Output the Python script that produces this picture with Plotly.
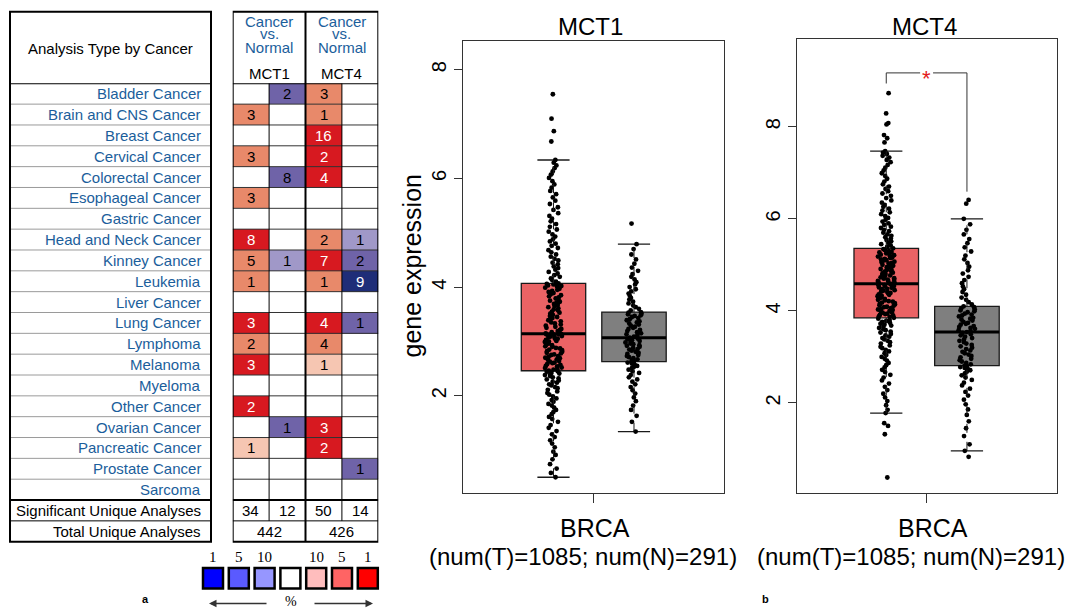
import plotly.graph_objects as go

W, H = 1070, 610
def px(x): return x / W
def py(y): return 1 - y / H

FONT = "Liberation Sans, Arial, sans-serif"
SERIF = "Liberation Serif, Times New Roman, serif"

# ---------------- Oncomine table data ----------------
cancers = ["Bladder Cancer", "Brain and CNS Cancer", "Breast Cancer", "Cervical Cancer",
           "Colorectal Cancer", "Esophageal Cancer", "Gastric Cancer", "Head and Neck Cancer",
           "Kinney Cancer", "Leukemia", "Liver Cancer", "Lung Cancer", "Lymphoma", "Melanoma",
           "Myeloma", "Other Cancer", "Ovarian Cancer", "Pancreatic Cancer", "Prostate Cancer",
           "Sarcoma"]
genes = ["MCT1", "MCT4"]
# counts of significant analyses (None = empty cell) and gene rank (top 1/5/10 %)
mct1_up_count   = [None, 3, None, 3, None, 3, None, 8, 5, 1, None, 3, 2, 3, None, 2, None, 1, None, None]
mct1_up_rank    = [None, 5, None, 5, None, 5, None, 1, 5, 5, None, 1, 5, 1, None, 1, None, 10, None, None]
mct1_down_count = [2, None, None, None, 8, None, None, None, 1, None, None, None, None, None, None, None, 1, None, None, None]
mct1_down_rank  = [5, None, None, None, 5, None, None, None, 10, None, None, None, None, None, None, None, 5, None, None, None]
mct4_up_count   = [3, 1, 16, 2, 4, None, None, 2, 7, 1, None, 4, 4, 1, None, None, 3, 2, None, None]
mct4_up_rank    = [5, 5, 1, 1, 1, None, None, 5, 1, 5, None, 1, 5, 10, None, None, 1, 1, None, None]
mct4_down_count = [None, None, None, None, None, None, None, 1, 2, 9, None, 1, None, None, None, None, None, None, 1, None]
mct4_down_rank  = [None, None, None, None, None, None, None, 10, 5, 1, None, 5, None, None, None, None, None, None, 5, None]
significant_unique = [34, 12, 50, 14]
total_unique = [442, 426]
legend_labels = ["1", "5", "10", "", "10", "5", "1"]

# ---------------- box plot data (GEPIA, BRCA) ----------------
# [lower whisker, q1, median, q3, upper whisker]
mct1_tumor_box = [0.50, 2.46, 3.14, 4.07, 6.34]
mct1_normal_box = [1.34, 2.63, 3.07, 3.54, 4.79]
mct4_tumor_box = [1.78, 3.85, 4.59, 5.36, 7.47]
mct4_normal_box = [0.96, 2.81, 3.54, 4.10, 6.00]

mct1_tumor_pts = [
    0.50, 0.58, 0.66, 0.74, 0.83, 0.91, 0.97, 1.05, 1.12, 1.18, 1.24, 1.29, 1.35, 1.41, 1.46,
    1.52, 1.57, 1.61, 1.66, 1.70, 1.74, 1.78, 1.82, 1.85, 1.89, 1.92, 1.95, 1.99, 2.02, 2.05,
    2.08, 2.11, 2.14, 2.16, 2.19, 2.21, 2.24, 2.26, 2.28, 2.30, 2.32, 2.34, 2.36, 2.38, 2.39,
    2.41, 2.42, 2.44, 2.45, 2.46,
    2.48, 2.49, 2.51, 2.52, 2.54, 2.55, 2.57, 2.58, 2.60, 2.61, 2.63, 2.64, 2.66, 2.67, 2.69,
    2.70, 2.72, 2.73, 2.75, 2.76, 2.78, 2.79, 2.81, 2.82, 2.84, 2.85, 2.87, 2.88, 2.90, 2.91,
    2.93, 2.94, 2.96, 2.97, 2.99, 3.00, 3.01, 3.03, 3.04, 3.05, 3.07, 3.08, 3.09, 3.10, 3.11,
    3.12, 3.13, 3.13, 3.14, 3.14,
    3.15, 3.17, 3.19, 3.21, 3.23, 3.25, 3.27, 3.29, 3.31, 3.33, 3.35, 3.37, 3.39, 3.41, 3.43,
    3.45, 3.47, 3.49, 3.51, 3.53, 3.55, 3.57, 3.59, 3.61, 3.63, 3.65, 3.67, 3.69, 3.71, 3.73,
    3.75, 3.77, 3.79, 3.81, 3.83, 3.85, 3.87, 3.89, 3.91, 3.93, 3.95, 3.97, 3.99, 4.01, 4.02,
    4.03, 4.04, 4.05, 4.06, 4.07,
    4.10, 4.13, 4.16, 4.19, 4.22, 4.25, 4.28, 4.32, 4.35, 4.38, 4.42, 4.45, 4.49, 4.52, 4.56,
    4.60, 4.64, 4.68, 4.72, 4.76, 4.80, 4.84, 4.88, 4.93, 4.97, 5.02, 5.06, 5.11, 5.16, 5.21,
    5.26, 5.31, 5.36, 5.42, 5.47, 5.53, 5.59, 5.65, 5.71, 5.77, 5.83, 5.89, 5.95, 6.01, 6.07,
    6.13, 6.19, 6.24, 6.29, 6.34,
    6.68, 6.87, 7.10, 7.55]
mct1_normal_pts = [
    1.34, 1.52, 1.63, 1.74, 1.82, 1.90, 1.97, 2.04, 2.10, 2.16, 2.21, 2.26, 2.30, 2.34, 2.38,
    2.42, 2.45, 2.48, 2.51, 2.53, 2.55, 2.57, 2.59, 2.61, 2.63,
    2.65, 2.67, 2.69, 2.71, 2.73, 2.75, 2.77, 2.79, 2.81, 2.83, 2.85, 2.86, 2.88, 2.90, 2.92,
    2.93, 2.95, 2.96, 2.98, 2.99, 3.01, 3.02, 3.04, 3.05, 3.07,
    3.09, 3.11, 3.13, 3.15, 3.17, 3.19, 3.21, 3.23, 3.25, 3.27, 3.29, 3.31, 3.33, 3.35, 3.37,
    3.39, 3.41, 3.43, 3.45, 3.47, 3.48, 3.50, 3.51, 3.53, 3.54,
    3.57, 3.60, 3.63, 3.66, 3.70, 3.73, 3.77, 3.80, 3.84, 3.88, 3.92, 3.96, 4.00, 4.05, 4.09,
    4.14, 4.19, 4.24, 4.30, 4.36, 4.43, 4.51, 4.60, 4.70, 4.79,
    5.17]
mct4_tumor_pts = [
    0.38, 1.32, 1.50, 1.56,
    1.78, 1.85, 1.95, 2.04, 2.12, 2.20, 2.28, 2.35, 2.42, 2.49, 2.55, 2.61, 2.67, 2.72, 2.77,
    2.82, 2.87, 2.92, 2.96, 3.00, 3.04, 3.08, 3.12, 3.15, 3.19, 3.22, 3.25, 3.29, 3.32, 3.35,
    3.38, 3.41, 3.44, 3.47, 3.50, 3.53, 3.55, 3.58, 3.60, 3.63, 3.65, 3.68, 3.70, 3.72, 3.74,
    3.76, 3.78, 3.80, 3.83, 3.85,
    3.87, 3.88, 3.90, 3.91, 3.93, 3.94, 3.96, 3.97, 3.99, 4.00, 4.02, 4.03, 4.05, 4.06, 4.08,
    4.09, 4.11, 4.12, 4.14, 4.15, 4.17, 4.18, 4.20, 4.21, 4.23, 4.24, 4.26, 4.27, 4.29, 4.30,
    4.32, 4.33, 4.35, 4.36, 4.38, 4.39, 4.41, 4.42, 4.44, 4.45, 4.47, 4.48, 4.50, 4.51, 4.53,
    4.54, 4.55, 4.56, 4.58, 4.59,
    4.61, 4.62, 4.64, 4.65, 4.67, 4.68, 4.70, 4.71, 4.73, 4.74, 4.76, 4.77, 4.79, 4.80, 4.82,
    4.83, 4.85, 4.86, 4.88, 4.89, 4.91, 4.92, 4.94, 4.95, 4.97, 4.98, 5.00, 5.01, 5.03, 5.04,
    5.06, 5.07, 5.09, 5.10, 5.12, 5.13, 5.15, 5.16, 5.18, 5.19, 5.21, 5.22, 5.24, 5.25, 5.27,
    5.28, 5.30, 5.32, 5.34, 5.36,
    5.39, 5.42, 5.45, 5.48, 5.51, 5.54, 5.57, 5.60, 5.63, 5.66, 5.70, 5.73, 5.76, 5.80, 5.83,
    5.87, 5.90, 5.94, 5.98, 6.02, 6.06, 6.10, 6.14, 6.18, 6.22, 6.26, 6.30, 6.35, 6.40, 6.45,
    6.50, 6.55, 6.60, 6.65, 6.70, 6.75, 6.81, 6.87, 6.93, 6.99, 7.05, 7.11, 7.17, 7.23, 7.28,
    7.33, 7.37, 7.41, 7.44, 7.47,
    7.66, 7.75, 7.82, 8.05, 8.08, 8.29, 8.73]
mct4_normal_pts = [
    0.83,
    0.96, 1.10, 1.28, 1.45, 1.60, 1.74, 1.86, 1.97, 2.07, 2.16, 2.24, 2.31, 2.38, 2.44, 2.50,
    2.55, 2.60, 2.64, 2.68, 2.71, 2.74, 2.76, 2.78, 2.80, 2.81,
    2.84, 2.87, 2.90, 2.93, 2.96, 2.99, 3.02, 3.05, 3.08, 3.11, 3.14, 3.17, 3.20, 3.23, 3.26,
    3.29, 3.32, 3.35, 3.38, 3.41, 3.44, 3.47, 3.49, 3.52, 3.54,
    3.56, 3.58, 3.61, 3.63, 3.65, 3.67, 3.70, 3.72, 3.74, 3.76, 3.79, 3.81, 3.83, 3.85, 3.88,
    3.90, 3.92, 3.94, 3.97, 3.99, 4.01, 4.03, 4.06, 4.08, 4.10,
    4.14, 4.19, 4.24, 4.29, 4.35, 4.41, 4.47, 4.53, 4.60, 4.67, 4.74, 4.81, 4.88, 4.96, 5.04,
    5.12, 5.20, 5.29, 5.38, 5.47, 5.56, 5.66, 5.76, 5.88, 6.00,
    6.33, 6.41]
# significance bracket (MCT4): left leg bottom, bar height, right leg bottom
sig_bracket = [8.94, 9.17, 6.59]
group_labels = ["BRCA", "(num(T)=1085; num(N)=291)"]

# ---------------- styles ----------------
TUMOR = "#EA6365"
NORMAL = "#7F7F7F"
CELL_COLORS = ["#1F2D78", "#6F63A8", "#A098C8", "#FFFFFF", "#F6C6B2", "#E8896A", "#D71920"]
LEG_COLORS = ["#0000FF", "#5A5AFF", "#9696FF", "#FFFFFF", "#FFBDBD", "#FF6464", "#FF0000"]
NAME_BLUE = "#1B5E9B"

fig = go.Figure()
ann = []
shapes = []

def text(x, y, s, size, color="black", family=FONT, xref="paper", yref="paper", xanchor="center", **kw):
    ann.append(dict(x=x, y=y, xref=xref, yref=yref, text=s, showarrow=False, xanchor=xanchor,
                    yanchor="middle", font=dict(family=family, size=size, color=color), **kw))

# ---------------- heatmap table ----------------
def code(rank, sign):
    if rank is None:
        return 0
    return sign * {1: 3, 5: 2, 10: 1}[rank]

cols = [(mct1_up_count, mct1_up_rank, 1), (mct1_down_count, mct1_down_rank, -1),
        (mct4_up_count, mct4_up_rank, 1), (mct4_down_count, mct4_down_rank, -1)]
z = [[code(cols[c][1][r], cols[c][2]) for c in range(4)] for r in range(len(cancers))]
cs = []
for i, col in enumerate(CELL_COLORS):
    cs.append([i / 7, col])
    cs.append([(i + 1) / 7, col])
fig.add_trace(go.Heatmap(z=z, x=[0, 1, 2, 3], y=list(range(len(cancers))), zmin=-3.5, zmax=3.5,
                         colorscale=cs, showscale=False, hoverinfo="skip",
                         xaxis="x3", yaxis="y3"))

for c in range(4):
    counts, ranks, sign = cols[c]
    for r in range(len(cancers)):
        if counts[r] is not None:
            text(c, r, str(counts[r]), 15,
                 color="white" if abs(code(ranks[r], sign)) == 3 else "black",
                 xref="x3", yref="y3")
for r, name in enumerate(cancers):
    text(px(203), r, name, 15, color=NAME_BLUE, yref="y3", xanchor="right")
text(px(203), 20, "Significant Unique Analyses", 15, yref="y3", xanchor="right")
text(px(203), 21, "Total Unique Analyses", 15, yref="y3", xanchor="right")
for c, v in enumerate(significant_unique):
    text(c, 20, str(v), 15, xref="x3", yref="y3")
for g, v in enumerate(total_unique):
    text(2 * g + 0.5, 21, str(v), 15, xref="x3", yref="y3")
# header
text(px(110.5), py(48.5), "Analysis Type by Cancer", 15)
for g, gene in enumerate(genes):
    for s, yy in (("Cancer", 22), ("vs.", 33.5), ("Normal", 47)):
        text(2 * g + 0.5, py(yy), s, 15, color=NAME_BLUE, xref="x3")
    text(2 * g + 0.5, py(73.5), gene, 15, xref="x3")

TOP, BOT = py(11.7), py(541.7)
# right table lines
for k in range(1, 20):
    shapes.append(dict(type="line", xref="x3", yref="y3", x0=-0.5, x1=3.5, y0=k - 0.5, y1=k - 0.5,
                       line=dict(color="#333", width=1)))
shapes.append(dict(type="line", xref="x3", yref="y3", x0=-0.5, x1=3.5, y0=20.5, y1=20.5,
                   line=dict(color="black", width=1)))
for yb in (-0.5, 19.5):
    shapes.append(dict(type="line", xref="x3", yref="y3", x0=-0.5, x1=3.5, y0=yb, y1=yb,
                       line=dict(color="black", width=2)))
for xv in (0.5, 2.5):
    shapes.append(dict(type="line", xref="x3", yref="y3", x0=xv, x1=xv, y0=-0.5, y1=20.5,
                       line=dict(color="black", width=1)))
shapes.append(dict(type="line", xref="x3", yref="paper", x0=1.5, x1=1.5, y0=TOP, y1=BOT,
                   line=dict(color="black", width=2)))
shapes.append(dict(type="rect", xref="x3", yref="paper", x0=-0.5, x1=3.5, y0=BOT, y1=TOP,
                   line=dict(color="black", width=2)))
# left table lines
for k in range(1, 20):
    shapes.append(dict(type="line", xref="paper", yref="y3", x0=px(10), x1=px(211), y0=k - 0.5, y1=k - 0.5,
                       line=dict(color="#9a9a9a", width=1)))
shapes.append(dict(type="line", xref="paper", yref="y3", x0=px(10), x1=px(211), y0=20.5, y1=20.5,
                   line=dict(color="black", width=1)))
for yb in (-0.5, 19.5):
    shapes.append(dict(type="line", xref="paper", yref="y3", x0=px(10), x1=px(211), y0=yb, y1=yb,
                       line=dict(color="black", width=2)))
shapes.append(dict(type="rect", xref="paper", yref="paper", x0=px(10), x1=px(211), y0=BOT, y1=TOP,
                   line=dict(color="black", width=2)))

# color legend
leg_x = [213, 238.8, 264.6, 290.4, 316.2, 342, 367.8]
for lx, col, lab in zip(leg_x, LEG_COLORS, legend_labels):
    shapes.append(dict(type="rect", xref="paper", yref="paper", x0=px(lx - 10), x1=px(lx + 10),
                       y0=py(588.5), y1=py(568), fillcolor=col, line=dict(color="black", width=2.5)))
    if lab:
        text(px(lx), py(557), lab, 15, family=SERIF)
ann.append(dict(x=px(209), y=py(603.5), xref="paper", yref="paper", ax=59, ay=0, text="",
                showarrow=True, arrowhead=2, arrowsize=1, arrowwidth=1.5, arrowcolor="#333"))
ann.append(dict(x=px(373), y=py(603.5), xref="paper", yref="paper", ax=-60, ay=0, text="",
                showarrow=True, arrowhead=2, arrowsize=1, arrowwidth=1.5, arrowcolor="#333"))
text(px(290.7), py(601.5), "%", 14, family=SERIF)
text(px(145), py(599), "<b>a</b>", 11)
text(px(765), py(599), "<b>b</b>", 11)

# ---------------- box plots ----------------
def add_group(xa, ya, pos, stats, pts, fill):
    lo, q1, med, q3, hi = stats
    # dashed whiskers
    fig.add_trace(go.Scatter(x=[pos, pos, None, pos, pos], y=[lo, q1, None, q3, hi], mode="lines",
                             line=dict(color="#1a1a1a", width=1, dash="dash"), hoverinfo="skip",
                             showlegend=False, xaxis=xa, yaxis=ya))
    # whisker caps
    for v in (lo, hi):
        fig.add_trace(go.Box(x=[pos], lowerfence=[v], q1=[v], median=[v], q3=[v], upperfence=[v],
                             orientation="v", width=0.4, whiskerwidth=0, fillcolor="rgba(0,0,0,0)",
                             line=dict(color="#1a1a1a", width=1.3), boxpoints=False,
                             hoverinfo="skip", showlegend=False, xaxis=xa, yaxis=ya))
    # box body
    fig.add_trace(go.Box(x=[pos], lowerfence=[q1], q1=[q1], median=[med], q3=[q3], upperfence=[q3],
                         orientation="v", width=0.8, whiskerwidth=0, fillcolor=fill,
                         line=dict(color="#1a1a1a", width=1.3),
                         boxpoints=False, hoverinfo="skip", showlegend=False, xaxis=xa, yaxis=ya))
    # thick median
    fig.add_trace(go.Box(x=[pos], lowerfence=[med], q1=[med], median=[med], q3=[med], upperfence=[med],
                         orientation="v", width=0.8, whiskerwidth=0, fillcolor="rgba(0,0,0,0)",
                         line=dict(color="black", width=3), boxpoints=False, hoverinfo="skip",
                         showlegend=False, xaxis=xa, yaxis=ya))
    # jittered samples
    fig.add_trace(go.Box(x=[pos] * len(pts), y=pts, orientation="v", width=0.8, boxpoints="all",
                         jitter=0.27, pointpos=0, fillcolor="rgba(0,0,0,0)",
                         line=dict(width=0, color="rgba(0,0,0,0)"),
                         marker=dict(size=4.8, color="black", line=dict(width=0)),
                         hoverinfo="skip", showlegend=False, xaxis=xa, yaxis=ya))

add_group("x", "y", 0, mct1_tumor_box, mct1_tumor_pts, TUMOR)
add_group("x", "y", 1, mct1_normal_box, mct1_normal_pts, NORMAL)
add_group("x2", "y2", 0, mct4_tumor_box, mct4_tumor_pts, TUMOR)
add_group("x2", "y2", 1, mct4_normal_box, mct4_normal_pts, NORMAL)

fig.add_trace(go.Scatter(x=[0, 0, 0.42, None, 0.58, 1, 1],
                         y=[sig_bracket[0], sig_bracket[1], sig_bracket[1], None,
                            sig_bracket[1], sig_bracket[1], sig_bracket[2]],
                         mode="lines", line=dict(color="#333", width=1), hoverinfo="skip",
                         showlegend=False, xaxis="x2", yaxis="y2"))
text(0.5, sig_bracket[1], "*", 22, color="#E41A1C", xref="x2", yref="y2", yshift=-6)

for title, tx, bx, nx in (("MCT1", 590, 595, 582.5), ("MCT4", 924, 933, 911)):
    text(px(tx), py(26), title, 24)
    text(px(bx), py(528), group_labels[0], 25)
    text(px(nx), py(556), group_labels[1], 24)
text(px(411), py(266.5), "gene expression", 25, textangle=-90)

xcommon = dict(showline=True, mirror=True, linecolor="#333", linewidth=1.2, ticks="outside",
               ticklen=9, tickcolor="#333", tickvals=[0.5], ticktext=[""], showgrid=False,
               zeroline=False, fixedrange=True)
ycommon = dict(showline=True, mirror=True, linecolor="#333", linewidth=1.2, ticks="outside",
               ticklen=8, tickcolor="#333", tickvals=[2, 4, 6, 8], tickangle=-90, showgrid=False,
               zeroline=False, tickfont=dict(family=FONT, size=20, color="black"), fixedrange=True)

fig.update_layout(
    width=W, height=H, margin=dict(l=0, r=0, t=0, b=0),
    paper_bgcolor="white", plot_bgcolor="white", boxmode="overlay", showlegend=False,
    xaxis=dict(domain=[px(463), px(724)], range=[-1.124, 2.118], anchor="y", **xcommon),
    yaxis=dict(domain=[py(493), py(41)], range=[0.21, 8.53], anchor="x", **ycommon),
    xaxis2=dict(domain=[px(796.7), px(1057.3)], range=[-1.11, 2.12], anchor="y2", **xcommon),
    yaxis2=dict(domain=[py(492.7), py(39.3)], range=[0.05, 9.9], anchor="x2", **ycommon),
    xaxis3=dict(domain=[px(232.7), px(378.3)], range=[-0.5, 3.5], visible=False, anchor="y3",
                fixedrange=True),
    yaxis3=dict(domain=[py(541.7), py(83.3)], range=[21.5, -0.5], visible=False, anchor="x3",
                fixedrange=True),
    annotations=ann, shapes=shapes,
)

fig.write_html("out.html")
